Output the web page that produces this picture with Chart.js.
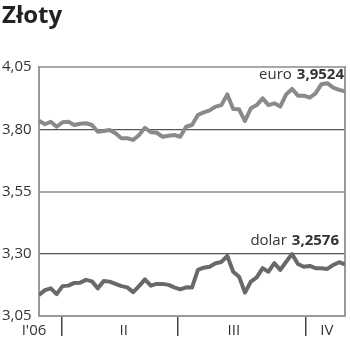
<!DOCTYPE html>
<html>
<head>
<meta charset="utf-8">
<script src="https://cdn.jsdelivr.net/npm/chart.js@4.4.1/dist/chart.umd.min.js"></script>
<style>
  html, body { margin: 0; padding: 0; background: #fff; }
  #wrap { width: 350px; height: 351px; position: relative; }
</style>
</head>
<body>
<div id="wrap"><canvas id="chart"></canvas></div>
<script>
// kursy złotego, notowania od połowy marca do końca października 2006
const euro = [3.834, 3.820, 3.830, 3.810, 3.828, 3.830, 3.817, 3.822, 3.824, 3.817,
  3.790, 3.793, 3.797, 3.784, 3.764, 3.764, 3.757, 3.777, 3.806, 3.788,
  3.786, 3.770, 3.774, 3.777, 3.770, 3.810, 3.817, 3.857, 3.868, 3.876,
  3.891, 3.897, 3.940, 3.881, 3.880, 3.833, 3.884, 3.897, 3.924, 3.897,
  3.904, 3.891, 3.940, 3.962, 3.935, 3.935, 3.927, 3.944, 3.981, 3.985,
  3.967, 3.958, 3.9524];
const dolar = [3.134, 3.154, 3.161, 3.138, 3.170, 3.172, 3.183, 3.184, 3.195, 3.189,
  3.161, 3.191, 3.188, 3.179, 3.170, 3.165, 3.146, 3.170, 3.197, 3.172,
  3.179, 3.179, 3.175, 3.165, 3.157, 3.165, 3.164, 3.235, 3.244, 3.248,
  3.262, 3.267, 3.291, 3.228, 3.208, 3.144, 3.188, 3.205, 3.242, 3.228,
  3.262, 3.235, 3.268, 3.299, 3.259, 3.248, 3.251, 3.242, 3.242, 3.239,
  3.255, 3.266, 3.2576];

const yTicks = [3.05, 3.30, 3.55, 3.80, 4.05];
const quarterLabels = ["I'06", 'II', 'III', 'IV'];
const quarterLabelAt = [-0.85, 14.4, 33.1, 48.9];
const quarterBounds = [3.9, 23.6, 45.4];
const seriesNames = ['euro', 'dolar'];
const lastValues = ['3,9524', '3,2576'];

const FONT = '"Open Sans", "DejaVu Sans", sans-serif';

// podpisy przy końcu linii
const endLabels = {
  id: 'endLabels',
  afterDatasetsDraw(chart) {
    const { ctx, chartArea, scales: { y } } = chart;
    const spots = [
      { x: chartArea.right - 1, y: y.getPixelForValue(4.05) + 12 },
      { x: chartArea.right - 6, y: y.getPixelForValue(3.30) - 9 }
    ];
    ctx.save();
    ctx.textAlign = 'right';
    ctx.textBaseline = 'alphabetic';
    ctx.fillStyle = '#333';
    spots.forEach((p, i) => {
      ctx.font = 'bold 15px ' + FONT;
      ctx.fillText(lastValues[i], p.x, p.y);
      const w = ctx.measureText(lastValues[i]).width;
      ctx.font = '15px ' + FONT;
      ctx.fillText(seriesNames[i], p.x - w - 5, p.y);
    });
    ctx.restore();
  }
};

const toPoints = arr => arr.map((v, i) => ({ x: i, y: v }));

new Chart(document.getElementById('chart'), {
  type: 'line',
  data: {
    datasets: [
      { data: toPoints(euro), borderColor: '#8a8a8a', borderWidth: 4, pointRadius: 0, tension: 0, borderJoinStyle: 'round' },
      { data: toPoints(dolar), borderColor: '#696969', borderWidth: 4, pointRadius: 0, tension: 0, borderJoinStyle: 'round' }
    ]
  },
  options: {
    responsive: true,
    maintainAspectRatio: false,
    animation: false,
    layout: { padding: { left: 2, right: 5, top: 0, bottom: 0 } },
    plugins: {
      legend: { display: false },
      tooltip: { enabled: false },
      title: {
        display: true,
        text: 'Złoty',
        align: 'start',
        color: '#222',
        font: { family: FONT, size: 24, weight: 'bold', lineHeight: 1.2 },
        padding: { top: 2, bottom: 36.2 }
      }
    },
    scales: {
      x: {
        type: 'linear',
        min: 0,
        max: 52,
        afterBuildTicks: axis => {
          const t = quarterBounds.map(v => ({ value: v, label: '' }))
            .concat(quarterLabelAt.map((v, i) => ({ value: v, label: quarterLabels[i] })));
          axis.ticks = t.sort((a, b) => a.value - b.value);
        },
        afterFit: s => { s.height = 35; s.paddingLeft = 0; s.paddingRight = 0; },
        grid: {
          drawOnChartArea: false,
          drawTicks: true,
          tickLength: 20,
          lineWidth: 1.5,
          color: '#444',
          tickColor: c => (c.tick && c.tick.label) ? 'rgba(0,0,0,0)' : '#444'
        },
        border: { display: true, color: '#9a9a9a', width: 2 },
        ticks: {
          autoSkip: false,
          maxRotation: 0,
          padding: -14,
          color: '#333',
          font: { family: FONT, size: 15 },
          callback: function (v, i, ticks) { return ticks[i].label; }
        }
      },
      y: {
        min: 3.05,
        max: 4.05,
        afterBuildTicks: axis => { axis.ticks = yTicks.map(v => ({ value: v })); },
        afterFit: s => { s.width = 37; },
        grid: {
          drawTicks: false,
          color: c => (c.index % 2 === 0) ? '#a8a8a8' : '#555',
          lineWidth: c => (c.index % 2 === 0) ? 2 : 1.2
        },
        border: { display: true, color: '#9a9a9a', width: 2 },
        ticks: {
          crossAlign: 'far',
          color: '#333',
          font: { family: FONT, size: 15 },
          callback: v => v.toFixed(2).replace('.', ',')
        }
      },
      y2: {
        position: 'right',
        min: 3.05,
        max: 4.05,
        afterFit: s => { s.width = 0; },
        grid: { display: false },
        ticks: { display: false },
        border: { display: true, color: '#9a9a9a', width: 2 }
      }
    }
  },
  plugins: [endLabels]
});
</script>
</body>
</html>
